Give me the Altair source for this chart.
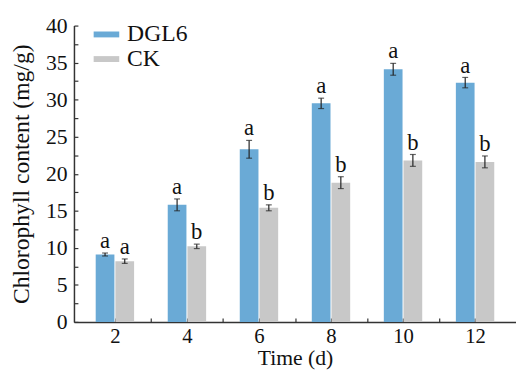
import altair as alt
import pandas as pd

days = [2, 4, 6, 8, 10, 12]
groups = ["DGL6", "CK"]
dgl6 = [9.1, 15.8, 23.3, 29.5, 34.1, 32.3]
dgl6_err = [0.2, 0.8, 1.2, 0.7, 0.8, 0.7]
dgl6_sig = ["a", "a", "a", "a", "a", "a"]
ck = [8.2, 10.2, 15.4, 18.8, 21.8, 21.6]
ck_err = [0.3, 0.3, 0.4, 0.8, 0.8, 0.8]
ck_sig = ["a", "b", "b", "b", "b", "b"]
x_major = [2, 4, 6, 8, 10, 12]
x_ticks = [2, 3, 4, 5, 6, 7, 8, 9, 10, 11, 12]
y_major = [0, 5, 10, 15, 20, 25, 30, 35, 40]
y_ticks = [i * 2.5 for i in range(17)]

colors = ["#6aaad6", "#c8c8c8"]
FONT = "Liberation Serif"

rows = []
for d, v, e, s in zip(days, dgl6, dgl6_err, dgl6_sig):
    rows.append({"day": d, "group": "DGL6", "value": v, "lo": v - e, "hi": v + e, "sig": s})
for d, v, e, s in zip(days, ck, ck_err, ck_sig):
    rows.append({"day": d, "group": "CK", "value": v, "lo": v - e, "hi": v + e, "sig": s})
df = pd.DataFrame(rows)

xscale = alt.Scale(domain=[1, 13], nice=False, zero=False)
yscale = alt.Scale(domain=[0, 40], nice=False)

xaxis = alt.Axis(values=x_major, title="Time (d)", grid=False, ticks=False, labelPadding=4,
                 labelFontSize=21, labelOverlap=False, titleBaseline="alphabetic", titleY=43,
                 titleFontSize=22, orient="bottom")
yaxis = alt.Axis(values=y_major, format="d", labelOverlap=False,
                 title="Chlorophyll content (mg/g)", grid=False, ticks=False,
                 labelPadding=7, titlePadding=12, orient="left")
xaxis_t = alt.Axis(values=x_ticks, labels=False, title=None, grid=False, domain=False,
                   tickSize={"expr": "-4"}, orient="bottom")
yaxis_t = alt.Axis(values=y_ticks, labels=False, title=None, grid=False, domain=False,
                   tickSize={"expr": "-4"}, orient="left")

base = alt.Chart(df)
offsets = {"DGL6": -10, "CK": 10}
layers = []
for g in groups:
    b = base.transform_filter(alt.datum.group == g)
    off = offsets[g]
    bars = b.mark_bar(width=19, xOffset=off).encode(
        x=alt.X("day:Q", scale=xscale, axis=None),
        y=alt.Y("value:Q", scale=yscale, axis=None),
        color=alt.Color("group:N", scale=alt.Scale(domain=groups, range=colors),
                        legend=alt.Legend(title=None, orient="none", legendX=20, legendY=-4,
                                          symbolType="M-1,-0.23H1V0.23H-1Z", symbolSize=676,
                                          symbolStrokeWidth=0, labelFontSize=24, labelFont=FONT,
                                          labelColor="#111", labelOffset=8, rowPadding=-2,
                                          padding=0)),
    )
    rule = b.mark_rule(color="#222", strokeWidth=1.2, xOffset=off).encode(
        x=alt.X("day:Q", axis=None), y=alt.Y("lo:Q", axis=None), y2="hi:Q")
    cap_hi = b.mark_tick(color="#222", orient="horizontal", size=6, thickness=1.2, xOffset=off).encode(
        x=alt.X("day:Q", axis=None), y=alt.Y("hi:Q", axis=None))
    cap_lo = b.mark_tick(color="#222", orient="horizontal", size=6, thickness=1.2, xOffset=off).encode(
        x=alt.X("day:Q", axis=None), y=alt.Y("lo:Q", axis=None))
    txt = b.mark_text(font=FONT, fontSize=23, color="#111", baseline="alphabetic", dy=-5,
                      xOffset=off).encode(x=alt.X("day:Q", axis=None), y=alt.Y("hi:Q", axis=None),
                                          text="sig:N")
    layers += [bars, rule, cap_hi, cap_lo, txt]

main = alt.layer(*layers)
label_layer = base.mark_rule(opacity=0).encode(
    x=alt.X("day:Q", scale=xscale, axis=xaxis),
    y=alt.Y("value:Q", scale=yscale, axis=yaxis),
)
tick_layer = base.mark_rule(opacity=0).encode(
    x=alt.X("day:Q", scale=xscale, axis=xaxis_t),
    y=alt.Y("lo:Q", scale=yscale, axis=yaxis_t),
)

chart = alt.layer(main, label_layer, tick_layer).resolve_axis(
    x="independent", y="independent"
).properties(
    width=449, height=301,
    autosize=alt.AutoSizeParams(type="none"),
    padding={"left": 67, "top": 15, "right": 0, "bottom": 47},
).configure_view(stroke=None).configure_axis(
    labelFont=FONT, titleFont=FONT, labelFontSize=22, titleFontSize=24,
    titleFontWeight="normal", labelColor="#111", titleColor="#111",
    domainColor="#333", domainWidth=1.5, tickColor="#333", tickWidth=1.2,
)

chart.save("out.html", embed_options={"renderer": "svg", "actions": False})
